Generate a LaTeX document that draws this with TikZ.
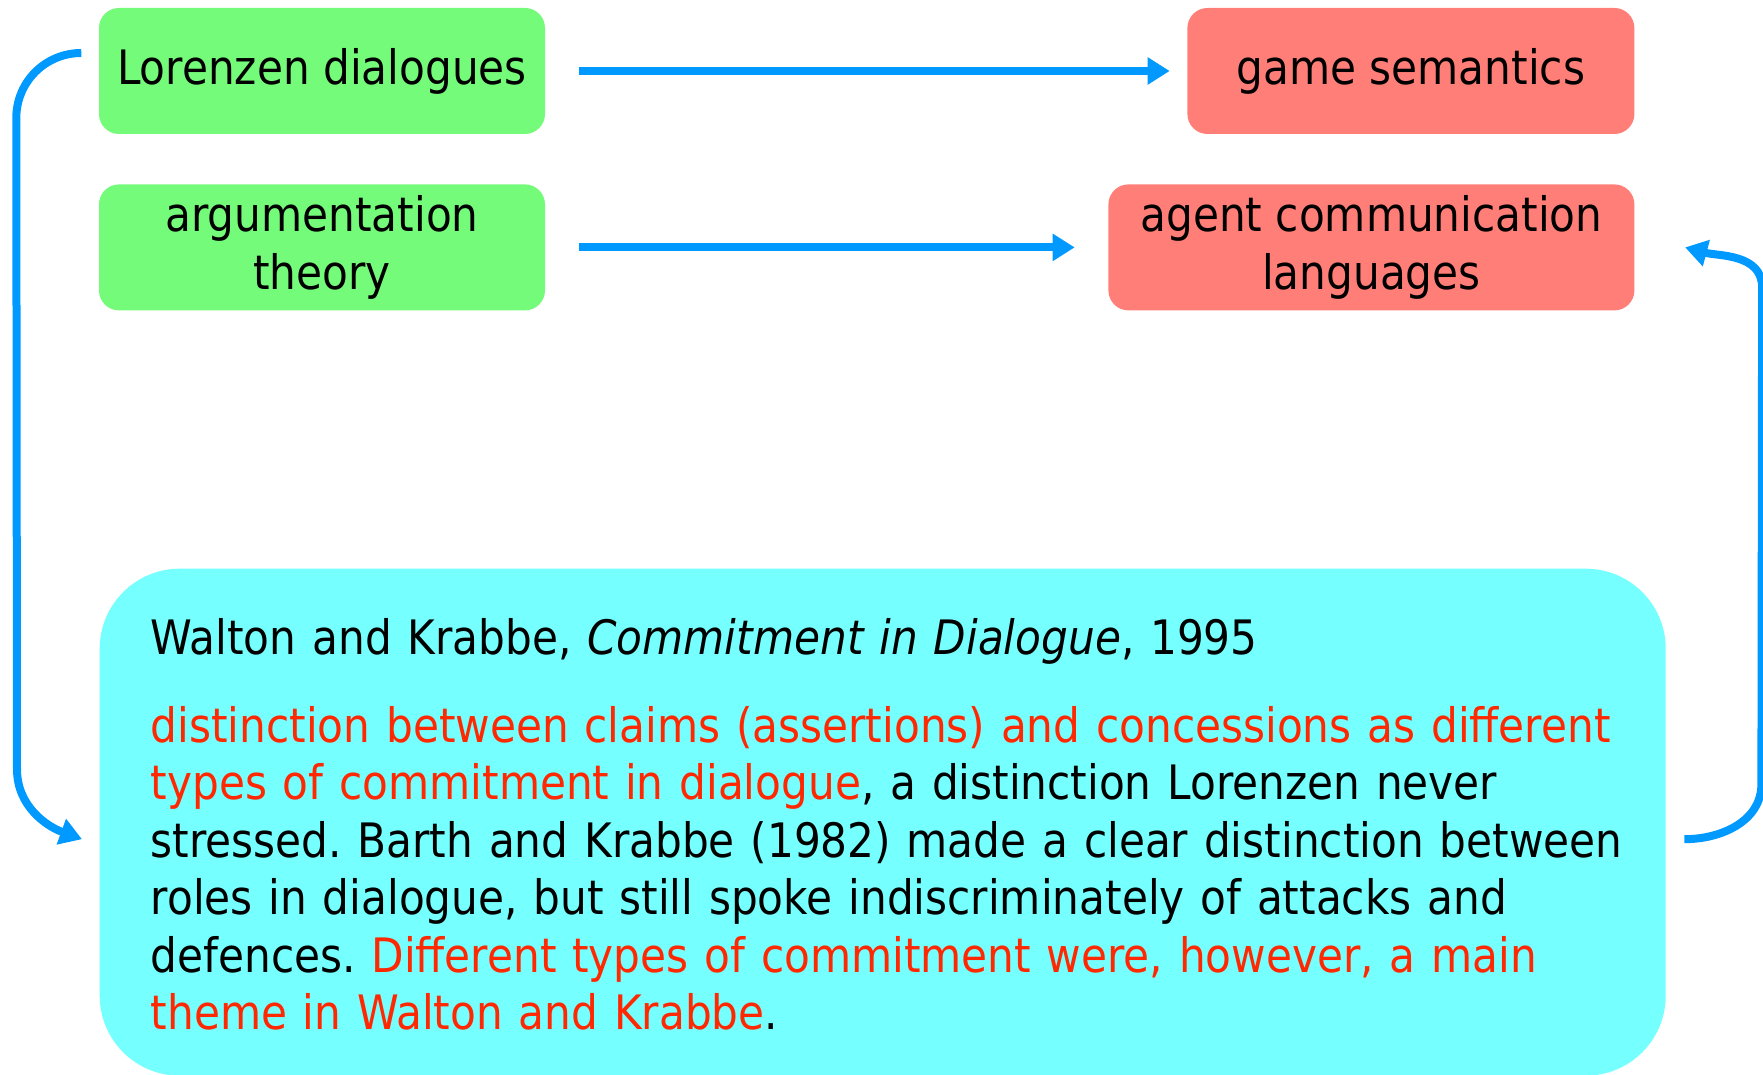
\documentclass[tikz,border=0pt]{standalone}
\usepackage{fontspec}
\setmainfont{DejaVu Sans}[FakeStretch=0.89]
\usepackage{xcolor}
\usetikzlibrary{arrows.meta, positioning, calc}

\definecolor{boxgreen}{RGB}{117,251,122}
\definecolor{boxred}{RGB}{255,127,120}
\definecolor{boxcyan}{RGB}{117,255,255}
\definecolor{linkblue}{RGB}{0,153,255}
\definecolor{textred}{RGB}{255,40,0}

\begin{document}
\frenchspacing
\begin{tikzpicture}[
    font=\fontsize{13.5}{16.36}\selectfont,
    topic/.style={rounded corners=0.2cm, minimum height=1.26cm, inner sep=0pt, align=center},
    link/.style={draw=linkblue, line width=0.08cm, -{Triangle[length=0.22cm,width=0.26cm]}}
]

            \useasboundingbox (0,0) rectangle (17.63,-10.75);

            % 上面两行
            \node[topic, fill=boxgreen, minimum width=4.46cm] (lor) at (3.22,-0.71) {Lorenzen dialogues};
            \node[topic, fill=boxred, minimum width=4.47cm, right=6.41cm of lor] (game) {game semantics};
            \node[topic, fill=boxgreen, minimum width=4.46cm, below=0.49cm of lor] (arg) {argumentation\\theory};
            \node[topic, fill=boxred, minimum width=5.26cm, anchor=east] (acl) at (game.east |- arg) {agent communication\\languages};

            % 下面大框
            \node[rounded corners=0.8cm, fill=boxcyan, minimum width=15.66cm, minimum height=5.07cm,
                  text width=14.64cm, inner xsep=0.51cm, inner ysep=0pt, align=left, anchor=north west]
            (big) at (0.99,-5.68)
            {\rule{0pt}{0.41cm}\mbox{Walton and Krabbe, \textit{Commitment in Dialogue}, 1995}\\[0.3cm]
             \mbox{\textcolor{textred}{distinction between claims (assertions) and concessions as different}}\\
             \mbox{\textcolor{textred}{types of commitment in dialogue}, a distinction Lorenzen never}\\
             \mbox{stressed. Barth and Krabbe (1982) made a clear distinction between}\\
             \mbox{roles in dialogue, but still spoke indiscriminately of attacks and}\\
             \mbox{defences. \textcolor{textred}{Different types of commitment were, however, a main}}\\
             \mbox{\textcolor{textred}{theme in Walton and Krabbe}.}};

            % 直箭头
            \draw[link, shorten <=0.33cm, shorten >=0.17cm] (lor) -- (game);
            \draw[link, shorten <=0.33cm, shorten >=0.33cm] (arg) -- (acl);

            % 左边回路
            \coordinate (a1) at ([xshift=-0.17cm,yshift=0.18cm]lor.west);
            \coordinate (a2) at ([xshift=-0.17cm,yshift=-0.17cm]big.west);
            \draw[link] (a1) to[out=180,in=90] ($(a1)+(-0.65,-0.65)$)
            -- ($(a2)+(-0.65,0.7)$) to[out=-90,in=160] (a2);

            % 右边回路
            \coordinate (b1) at ([xshift=0.18cm,yshift=-0.17cm]big.east);
            \coordinate (b2) at ([xshift=0.5cm]acl.east);
            \draw[link] (b1) to[out=0,in=-90] ($(b1)+(0.77,0.55)$)
            -- ($(b2)+(0.77,-0.4)$) to[out=90,in=-15] (b2);

\end{tikzpicture}
\end{document}
